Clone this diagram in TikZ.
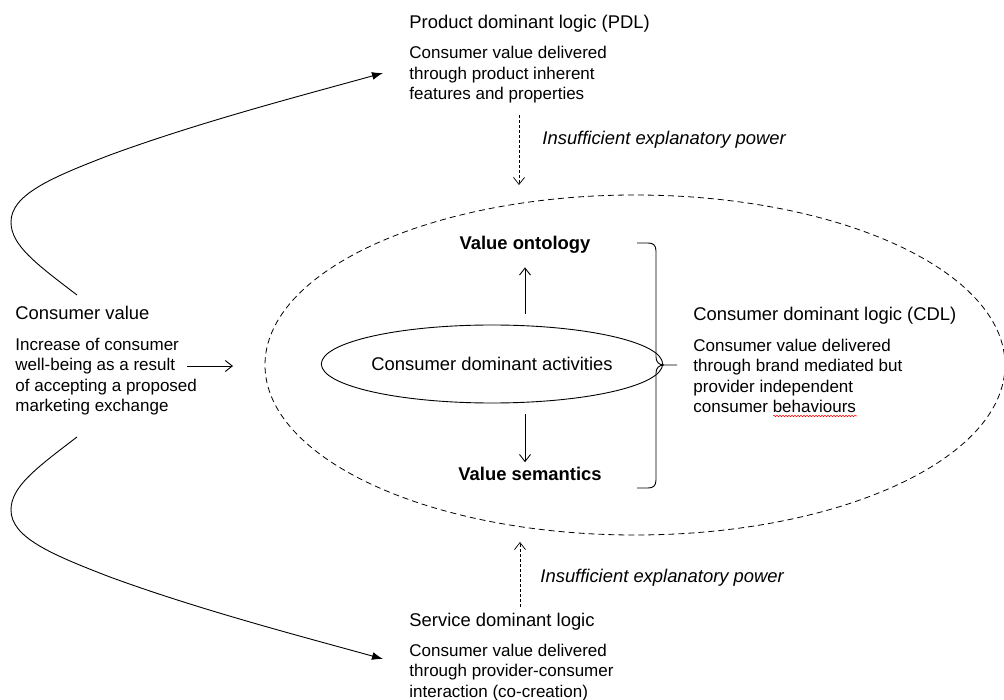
\documentclass[tikz,border=0pt]{standalone}
\usepackage{fontspec}
\setmainfont{Liberation Sans}
\usetikzlibrary{arrows.meta,shapes.geometric,decorations.pathmorphing}

\newcommand{\headsize}{\fontsize{18.4}{22}\selectfont}
\newcommand{\bodysize}{\fontsize{17}{20.5}\selectfont}

\begin{document}
\begin{tikzpicture}[x=1pt, y=-1pt, line width=0.9pt,
		>={Straight Barb[length=7pt,width=11pt]},
		head/.style={anchor=base west, inner sep=0pt, font=\headsize},
		body/.style={anchor=base west, inner sep=0pt, align=left, font=\bodysize},
		note/.style={anchor=base west, inner sep=0pt, font=\headsize\itshape},
		level/.style={anchor=base, inner sep=0pt, font=\headsize\bfseries},
		weak/.style={->, dash pattern=on 3pt off 2pt, line width=0.7pt},
		flow/.style={-{Latex[length=11pt,width=8pt]}}]
		\useasboundingbox (0,0) rectangle (1004,700);
		% consumer dominant logic (dashed zone)
		\node[ellipse, draw, dash pattern=on 6pt off 4pt, line width=0.8pt,
			minimum width=740pt, minimum height=340pt, inner sep=0pt] (cdlzone) at (635,365) {};
		\node[ellipse, draw, minimum width=302pt, minimum height=78pt, inner sep=0pt,
			font=\headsize] (activities) at (492,364) {Consumer dominant activities};
		\node[level] (ontology) at (525,250) {Value ontology};
		\node[level] (semantics) at (530,480) {Value semantics};
		\draw[->, shorten <=11pt, shorten >=13pt] (activities.north -| ontology.south) -- (ontology.south);
		\draw[->, shorten <=11pt, shorten >=4pt] (activities.south -| ontology.south) -- (semantics.north -| ontology.south);
		% brace
		\draw (637,243) -- (648,243) .. controls (653,243) and (656,245) .. (656,251) -- (656,357)
			.. controls (656,362) and (659,365) .. (664,365) -- (677,365);
		\draw (637,488) -- (648,488) .. controls (653,488) and (656,486) .. (656,480) -- (656,373)
			.. controls (656,368) and (659,365) .. (664,365);
		\node[head] (cdlhead) at (693,321) {Consumer dominant logic (CDL)};
		\node[body] (cdltext) at (693,412.5) {Consumer value delivered\\through brand mediated but\\provider independent\\consumer behaviours};
		\draw[red, line width=0.5pt, decorate, decoration={snake, amplitude=0.8pt, segment length=3pt}] (773,416) -- (857,416);
		% product dominant logic
		\node[head] (pdlhead) at (409,29) {Product dominant logic (PDL)};
		\node[body] (pdltext) at (409,100) {Consumer value delivered\\through product inherent\\features and properties};
		\coordinate (pdlfoot) at (519,115);
		\coordinate (zonetop) at (519,185);
		\draw[weak] (pdlfoot) -- (zonetop);
		\node[note] (gapupper) at (542,145) {Insufficient explanatory power};
		% service dominant logic
		\node[head] (sdlhead) at (409,626) {Service dominant logic};
		\node[body] (sdltext) at (409,697) {Consumer value delivered\\through provider-consumer\\interaction (co-creation)};
		\coordinate (sdltop) at (520,607);
		\coordinate (zonebottom) at (520,542);
		\draw[weak] (sdltop) -- (zonebottom);
		\node[note] (gaplower) at (540,582) {Insufficient explanatory power};
		% consumer value
		\node[head] (valuehead) at (15,320) {Consumer value};
		\node[body] (valuetext) at (15,411.5) {Increase of consumer\\well-being as a result\\of accepting a proposed\\marketing exchange};
		\coordinate (valueout) at (187,366);
		\coordinate (zoneleft) at (233,366);
		\draw[->] (valueout) -- (zoneleft);
		\coordinate (valueup) at (77,295);
		\coordinate (valuedown) at (77,437);
		\coordinate (pdlin) at (383,73);
		\coordinate (sdlin) at (383,659);
		\draw[flow] (valueup) .. controls (35,263) and (11,245) .. (11,222)
			.. controls (11,195) and (50,178) .. (110,155)
			.. controls (200,122) and (300,96) .. (pdlin);
		\draw[flow] (valuedown) .. controls (35,469) and (11,487) .. (11,510)
			.. controls (11,537) and (50,554) .. (110,577)
			.. controls (200,610) and (300,636) .. (sdlin);
	\end{tikzpicture}
\end{document}
